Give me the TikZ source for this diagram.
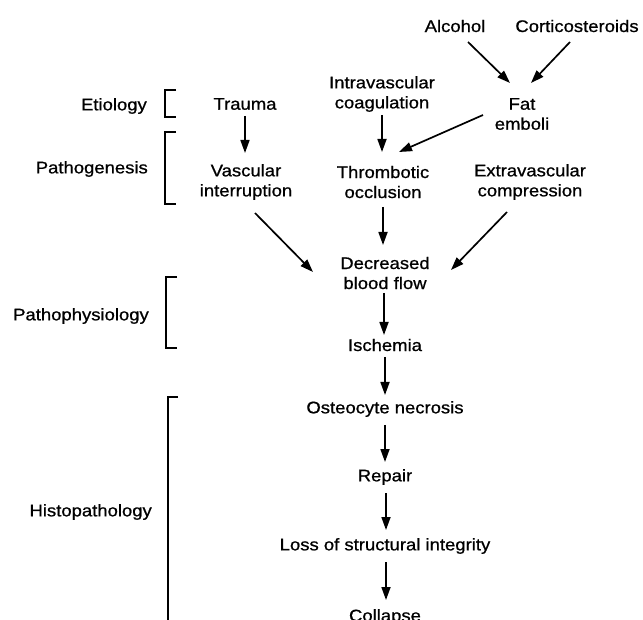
\documentclass[tikz,border=0pt]{standalone}
\usepackage{fontspec}
\setmainfont{Liberation Sans}[FakeStretch=1.1,FakeBold=0.8]
\usetikzlibrary{arrows.meta,calc}
\tikzset{
  lbl/.style={inner sep=0pt, align=center, font=\fontsize{16.8}{20}\selectfont},
  side/.style={lbl, anchor=east},
  arr/.style={line width=1.7pt, -{Triangle[length=13pt,width=9pt]}},
  brk/.style={line width=1.1pt}
}
\begin{document}
\begin{tikzpicture}[x=1pt,y=-1pt]
\useasboundingbox (0,0) rectangle (643,620);
\clip (0,0) rectangle (643,620);
% nodes
\node[lbl] (alc) at (455,26) {Alcohol};
\node[lbl] (cort) at (577,26) {Corticosteroids};
\node[lbl] (fat) at (522,114) {Fat\\emboli};
\node[lbl] (intra) at (382,94) {Intravascular\\coagulation};
\node[lbl] (trauma) at (245,104) {Trauma};
\node[lbl] (vasc) at (246,182) {Vascular\\interruption};
\node[lbl] (thromb) at (383,182) {Thrombotic\\occlusion};
\node[lbl] (extra) at (530,182) {Extravascular\\compression};
\node[lbl] (dec) at (385,273) {Decreased\\blood flow};
\node[lbl] (isch) at (385,345) {Ischemia};
\node[lbl] (osteo) at (385,409) {Osteocyte necrosis};
\node[lbl] (repair) at (385,477) {Repair};
\node[lbl] (loss) at (385,546) {Loss of structural integrity};
\node[lbl] (collapse) at (385,617) {Collapse};
% side labels
\node[side] (etio) at (147,106) {Etiology};
\node[side] (patho) at (148,169) {Pathogenesis};
\node[side] (physio) at (149,316) {Pathophysiology};
\node[side] (histo) at (152,512) {Histopathology};
% brackets
\draw[brk] (176,90) -- (165,90) -- (165,117) -- (176,117);
\draw[brk] (176,132) -- (165,132) -- (165,204) -- (176,204);
\draw[brk] (177,277) -- (166,277) -- (166,348) -- (177,348);
\draw[brk] (178,397) -- (168,397) -- (168,630);
% arrows
\draw[arr] ($(alc)+(13,16)$) -- ($(fat)+(-12,-31)$);
\draw[arr] ($(cort)+(-7,16)$) -- ($(fat)+(9,-31)$);
\draw[arr] ($(trauma)+(0,12)$) -- ($(vasc)+(-1,-29)$);
\draw[arr] ($(intra)+(0,21)$) -- ($(thromb)+(-1,-30)$);
\draw[arr] ($(fat)+(-39,1)$) -- ($(thromb)+(16,-30)$);
\draw[arr] ($(vasc)+(9,31)$) -- ($(dec)+(-72,-1)$);
\draw[arr] ($(thromb)+(0,25)$) -- ($(dec)+(-2,-28)$);
\draw[arr] ($(extra)+(-23,30)$) -- ($(dec)+(66,-3)$);
\draw[arr] ($(dec)+(-1,20)$) -- ($(isch)+(-1,-10)$);
\draw[arr] ($(isch)+(0,12)$) -- ($(osteo)+(0,-14)$);
\draw[arr] ($(osteo)+(0,16)$) -- ($(repair)+(0,-15)$);
\draw[arr] ($(repair)+(1,16)$) -- ($(loss)+(1,-16)$);
\draw[arr] ($(loss)+(1,16)$) -- ($(collapse)+(1,-17)$);
\end{tikzpicture}
\end{document}
